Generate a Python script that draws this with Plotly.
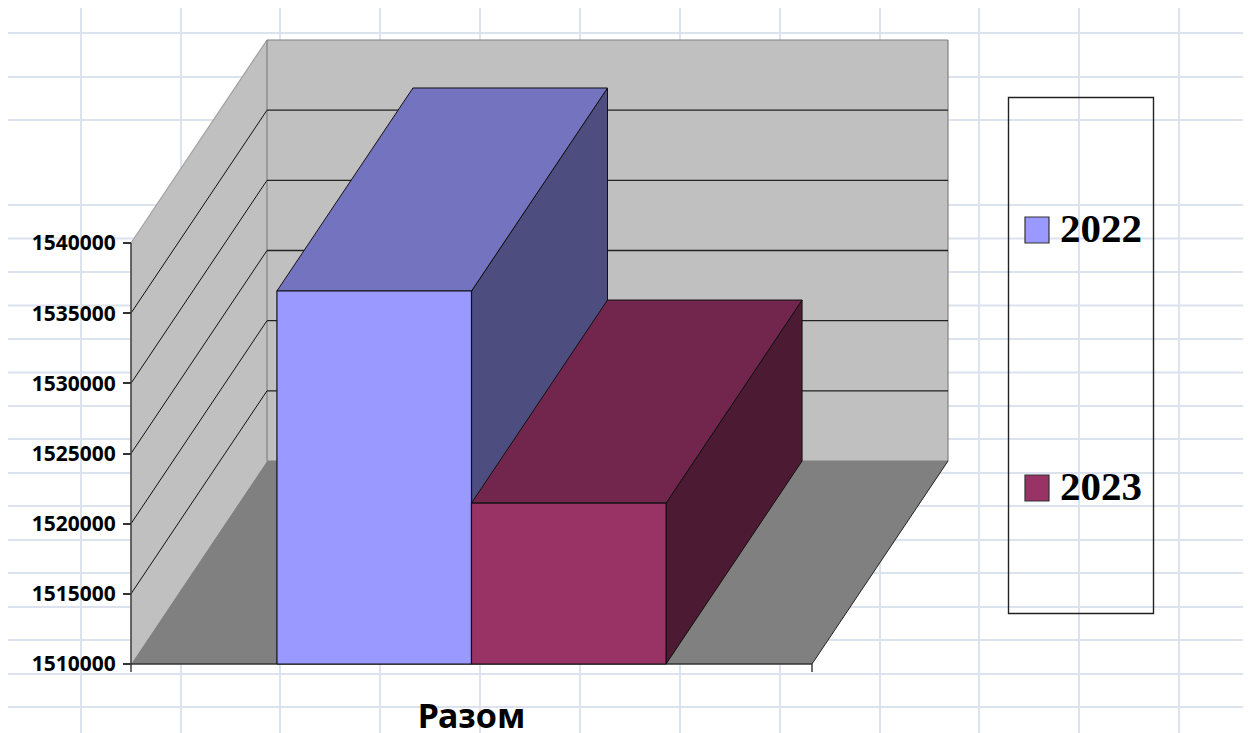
import plotly.graph_objects as go

# ---- data ----
series_names = ["2022", "2023"]
category = "Разом"
values_2022 = 1536580
values_2023 = 1521470
y_ticks = [1510000, 1515000, 1520000, 1525000, 1530000, 1535000, 1540000]

# ---- styles ----
front_colors = ["#9999FF", "#993366"]
top_colors = ["#7373BF", "#73264D"]
side_colors = ["#4D4D80", "#4D1A33"]
WALL = "#C0C0C0"
FLOOR = "#808080"
SHEET_GRID = "#DDE2EF"

# ---- layout (pixels of the 1249x733 page) ----
W, H = 1249, 733
PX_X0, PX_X1 = 131, 812      # front plane, category span
PX_Y0, PX_Y1 = 664, 243      # 1510000 .. 1540000
DEPTH_PX_X, DEPTH_PX_Y = 136, 203
V0, V1 = y_ticks[0], y_ticks[-1]
px_per_x = PX_X1 - PX_X0
px_per_v = (PX_Y0 - PX_Y1) / (V1 - V0)
DX = DEPTH_PX_X / px_per_x
DY = DEPTH_PX_Y / px_per_v
GAP_WIDTH = 1.5              # gap / bar width


def proj(x, v, d=0.0):
    """Oblique projection of (category position, value, depth) on the 2D axes."""
    return x + d * DX, v + d * DY


def poly(points):
    xs, ys = zip(*[proj(*p) for p in points])
    return list(xs) + [xs[0]], list(ys) + [ys[0]]


fig = go.Figure()


def face(points, fill, line_color=None, line_width=1, name=""):
    x, y = poly(points)
    fig.add_trace(go.Scatter(
        x=x, y=y, mode="lines", fill="toself", fillcolor=fill, name=name,
        line=dict(color=line_color or fill, width=line_width if line_color else 0),
        showlegend=False, hoverinfo="skip"))


def segs(segments, color, width):
    xs, ys = [], []
    for a, b in segments:
        pa, pb = proj(*a), proj(*b)
        xs += [pa[0], pb[0], None]
        ys += [pa[1], pb[1], None]
    fig.add_trace(go.Scatter(x=xs, y=ys, mode="lines", line=dict(color=color, width=width),
                             showlegend=False, hoverinfo="skip"))


# walls and floor
face([(0, V0, 0), (0, V1, 0), (0, V1, 1), (0, V0, 1)], WALL)
face([(0, V0, 1), (0, V1, 1), (1, V1, 1), (1, V0, 1)], WALL)
face([(0, V0, 0), (0, V0, 1), (1, V0, 1), (1, V0, 0)], FLOOR)

# wall edges
segs([((0, V1, 0), (0, V1, 1))], "#A0A0A0", 1.2)
segs([((0, V1, 1), (1, V1, 1)), ((1, V1, 1), (1, V0, 1)),
      ((0, V1, 1), (0, V0, 1)), ((0, V0, 1), (1, V0, 1))], "#808080", 1.2)
segs([((1, V0, 0), (1, V0, 1))], "#222222", 1)

# value gridlines on the walls
inner = y_ticks[1:-1]
segs([((0, v, 0), (0, v, 1)) for v in inner], "#111111", 1)
segs([((0, v, 1), (1, v, 1)) for v in inner], "#222222", 1.4)

# axis lines and the two end ticks of the category axis
tick_v = 8 / px_per_v
segs([((0, V0, 0), (0, V1, 0))], "#444444", 1.6)
segs([((0, V0, 0), (1, V0, 0)), ((0, V0, 0), (0, V0 - tick_v, 0)), ((1, V0, 0), (1, V0 - tick_v, 0))],
     "#333333", 1.4)

# bars
bar_w = 1 / (len(series_names) + GAP_WIDTH)
bar_vals = [values_2022, values_2023]
for i, (name, val) in enumerate(zip(series_names, bar_vals)):
    x0 = GAP_WIDTH / 2 * bar_w + i * bar_w
    x1 = x0 + bar_w
    face([(x1, V0, 0), (x1, val, 0), (x1, val, 1), (x1, V0, 1)], side_colors[i], "#111111", 1, name)
    face([(x0, val, 0), (x0, val, 1), (x1, val, 1), (x1, val, 0)], top_colors[i], "#111111", 1, name)
    face([(x0, V0, 0), (x0, val, 0), (x1, val, 0), (x1, V0, 0)], front_colors[i], "#111111", 1.2, name)

# spreadsheet grid behind the chart
GRID_V = [81, 181, 280, 380, 480, 580, 680, 780, 880, 979, 1079, 1179]
GRID_H = [33, 77, 120, 205, 238.5, 272, 305.5, 339, 372.5, 406, 439, 473, 506, 540, 573, 607, 640, 674, 707]
GRID_LEFT, GRID_RIGHT, GRID_TOP, GRID_BOTTOM = 8, 1243, 8, 733
fx = lambda p: p / W
fy = lambda p: 1 - p / H
shapes = []
for g in GRID_V:
    shapes.append(dict(type="line", xref="paper", yref="paper", layer="below",
                       x0=fx(g), x1=fx(g), y0=fy(GRID_TOP), y1=fy(GRID_BOTTOM),
                       line=dict(color=SHEET_GRID, width=2)))
for g in GRID_H:
    shapes.append(dict(type="line", xref="paper", yref="paper", layer="below",
                       x0=fx(GRID_LEFT), x1=fx(GRID_RIGHT), y0=fy(g), y1=fy(g),
                       line=dict(color=SHEET_GRID, width=2)))

# legend box
shapes.append(dict(type="rect", xref="paper", yref="paper", layer="above",
                   x0=fx(1008.5), x1=fx(1153.5), y0=fy(97.5), y1=fy(613.5),
                   fillcolor="rgba(255,255,255,0)", line=dict(color="#222222", width=1.4)))
annotations = []
LEG_Y = [230, 488]
for i, name in enumerate(series_names):
    shapes.append(dict(type="rect", xref="paper", yref="paper", layer="above",
                       x0=fx(1025), x1=fx(1049), y0=fy(LEG_Y[i] - 13), y1=fy(LEG_Y[i] + 13),
                       fillcolor=front_colors[i], line=dict(color="#333333", width=1.2)))
    annotations.append(dict(xref="paper", yref="paper", x=fx(1101), y=fy(LEG_Y[i] - 2),
                            text=f"<b>{name}</b>", showarrow=False, xanchor="center", yanchor="middle",
                            font=dict(family="Liberation Serif", size=41, color="black")))

fig.update_layout(
    width=W, height=H, margin=dict(l=0, r=0, t=0, b=0, pad=0, autoexpand=False),
    autosize=False, paper_bgcolor="white", plot_bgcolor="rgba(0,0,0,0)", showlegend=False,
    shapes=shapes, annotations=annotations, hovermode=False,
    xaxis=dict(domain=[0, 1], range=[-PX_X0 / px_per_x, (W - PX_X0) / px_per_x],
               anchor="free", position=(H - PX_Y0) / H,
               tickvals=[0.5], ticktext=[f"<b>{category}</b>"], ticks="", showgrid=False,
               zeroline=False, showline=False, ticklabelstandoff=29,
               tickfont=dict(family="Noto Sans", size=34, color="black")),
    yaxis=dict(domain=[0, 1],
               range=[V0 - (H - PX_Y0) / px_per_v, V0 + PX_Y0 / px_per_v],
               anchor="free", position=PX_X0 / W,
               tickvals=y_ticks, ticktext=[f"<b>{v}</b>" for v in y_ticks], ticks="outside",
               ticklen=8, tickwidth=1.5, tickcolor="#333333", showgrid=False, zeroline=False,
               showline=False, ticklabelstandoff=3,
               tickfont=dict(family="Noto Sans", size=21, color="black")),
)

fig.write_html("out.html", config={"displayModeBar": False},
               post_script="document.body.style.margin='0';document.body.style.overflow='hidden';")
